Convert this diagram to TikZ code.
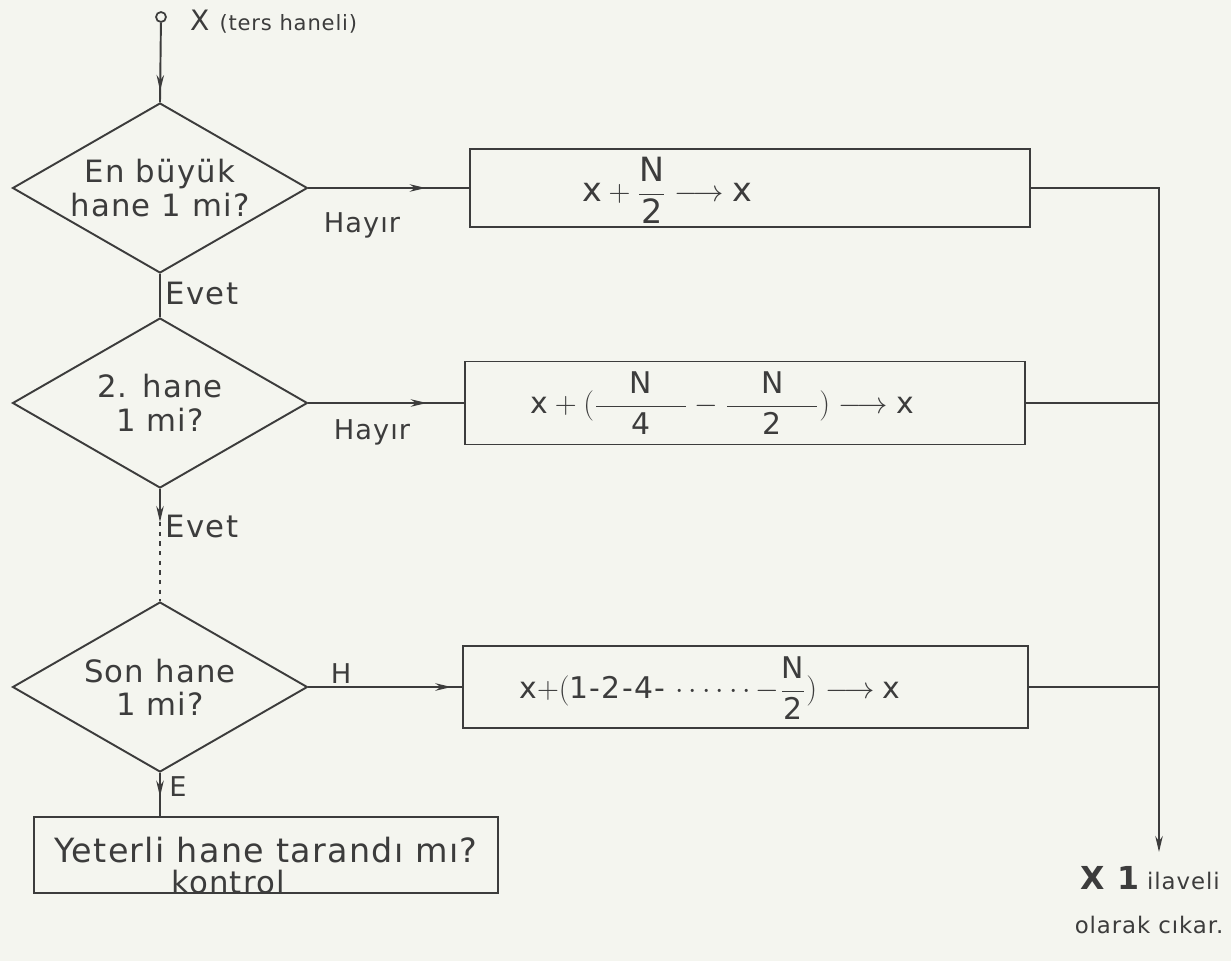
\documentclass[tikz,border=0pt]{standalone}
\usepackage{amsmath}
\usepackage{fontspec}
\setmainfont{DejaVu Sans}[LetterSpace=4]
\usetikzlibrary{shapes.geometric,arrows.meta,decorations.markings}
\definecolor{ink}{HTML}{3C3C3C}
\definecolor{paper}{HTML}{F4F5EF}
\begin{document}
\begin{tikzpicture}[x=0.02cm,y=-0.02cm,
  every node/.style={text=ink, font=\fontsize{17.5}{21}\selectfont},
  dia/.style={draw=ink, line width=1.1pt, diamond, minimum width=5.9cm, minimum height=3.4cm, inner sep=0pt, aspect=1.74, align=center},
  boxnode/.style={draw=ink, line width=1.1pt, rectangle, inner sep=0pt},
  link/.style={draw=ink, line width=1.1pt},
  tip/.style={-{Stealth[length=0.32cm,width=0.15cm]}},
  midtip/.style={postaction={decorate}, decoration={markings, mark=at position #1 with {\arrow{Stealth[length=0.32cm,width=0.15cm]}}}},
  formula/.style={font=\fontsize{17}{20}\selectfont},
  small/.style={font=\fontsize{15.5}{18}\selectfont},
]
\fill[paper] (0,0) rectangle (1231,961);
\useasboundingbox (0,0) rectangle (1231,961);

% start
\node[draw=ink, circle, line width=1pt, minimum size=0.2cm, inner sep=0pt] (start) at (161,17) {};
\node[anchor=west] (lab) at (184,22) {\fontsize{16}{16}\selectfont X \fontsize{12}{14}\selectfont (ters haneli)};

% diamonds
\node[dia] (d1) at (160,188) {En büyük\\[-2pt]hane 1 mi?};
\node[dia] (d2) at (160,403) {2. hane\\[-2pt]1 mi?};
\node[dia] (d3) at (160,687) {Son hane\\[-2pt]1 mi?};

% boxes
\node[boxnode, minimum width=11.2cm, minimum height=1.56cm] (b1) at (750,188) {};
\node[boxnode, minimum width=11.2cm, minimum height=1.66cm] (b2) at (745,403) {};
\node[boxnode, minimum width=11.3cm, minimum height=1.64cm] (b3) at (745.5,687) {};
\node[boxnode, minimum width=9.3cm, minimum height=1.52cm] (b4) at (266,855) {};

% box texts
\node[formula, font=\fontsize{19}{22}\selectfont] (t1) at (667,190) {$\text{x} + \dfrac{\text{N}}{\text{2}} \longrightarrow \text{x}$};
\node[formula] (t2) at (722,403) {$\text{x} +(\dfrac{\hphantom{xx}\text{N}\hphantom{xx}}{\text{4}} - \dfrac{\hphantom{xx}\text{N}\hphantom{xx}}{\text{2}}) \longrightarrow \text{x}$};
\node[formula] (t3) at (710,688) {$\text{x}{+}(\text{1-2-4-}\,\cdots\cdots{-}\dfrac{\text{N}}{\text{2}}) \longrightarrow \text{x}$};
\node[font=\fontsize{19}{22}\selectfont] (t4) at (266,850) {Yeterli hane tarandı mı?};
\node (t5) at (228,882) {kontrol};

% connectors
\draw[link, midtip=0.86] (start) -- (d1.north);
\draw[link, midtip=0.73] (d1.east) -- (b1.west);
\draw[link] (d1.south) -- (d2.north);
\draw[link, midtip=0.76] (d2.east) -- (b2.west);
\coordinate (e2) at (160,522);
\draw[link, tip] (d2.south) -- (e2);
\draw[link, dash pattern=on 2.5pt off 3pt] (e2) -- (d3.north);
\draw[link, midtip=0.93] (d3.east) -- (b3.west);
\draw[link, midtip=0.55] (d3.south) -- (d3.south |- b4.north);

\coordinate (out) at (1159,852);
\draw[link, tip] (b1.east) -| (out);
\draw[link] (b2.east) -- (b2.east -| out);
\draw[link] (b3.east) -- (b3.east -| out);

% labels
\node[small] (h1) at (362,225) {Hayır};
\node[small] (h2) at (372,432) {Hayır};
\node (ev1) at (202,294) {Evet};
\node (ev2) at (202,527) {Evet};
\node[small] (h3) at (341,674) {H};
\node[small] (ev3) at (178,787) {E};

% result
\node[font=\fontsize{13}{16}\selectfont] (r1) at (1150,878) {{\fontsize{18}{18}\selectfont\bfseries X 1} ilaveli};
\node[font=\fontsize{13}{16}\selectfont] (r2) at (1149,925) {olarak cıkar.};
\end{tikzpicture}
\end{document}
